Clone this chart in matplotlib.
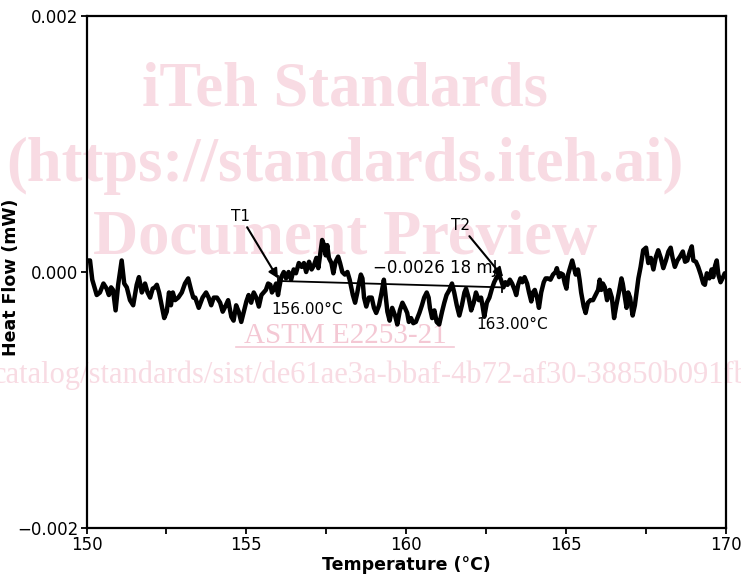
import matplotlib
matplotlib.use("Agg")
import matplotlib.pyplot as plt
from matplotlib.lines import Line2D

# ---------------- data ----------------
temperature = [
    150.04, 150.11, 150.18, 150.32, 150.42, 150.53, 150.63, 150.70, 150.77, 150.83,
    150.91, 150.99, 151.10, 151.18, 151.26, 151.36, 151.46, 151.57, 151.64, 151.73,
    151.78, 151.83, 151.91, 151.99, 152.07, 152.14, 152.20, 152.27, 152.35, 152.43,
    152.51, 152.58, 152.64, 152.70, 152.77, 152.87, 152.98, 153.08, 153.18, 153.27,
    153.34, 153.40, 153.51, 153.63, 153.74, 153.82, 153.90, 153.98, 154.08, 154.18,
    154.26, 154.34, 154.43, 154.53, 154.60, 154.68, 154.76, 154.84, 154.92, 155.00,
    155.07, 155.15, 155.23, 155.31, 155.39, 155.47, 155.54, 155.61, 155.68, 155.75,
    155.80, 155.87, 155.93, 155.99, 156.03, 156.09, 156.17, 156.24, 156.32, 156.40,
    156.48, 156.55, 156.64, 156.73, 156.80, 156.87, 156.96, 157.04, 157.11, 157.19,
    157.25, 157.32, 157.37, 157.43, 157.48, 157.53, 157.58, 157.66, 157.72, 157.79,
    157.87, 157.93, 158.00, 158.08, 158.16, 158.23, 158.29, 158.33, 158.40, 158.47,
    158.52, 158.58, 158.63, 158.68, 158.75, 158.83, 158.92, 158.99, 159.06, 159.15,
    159.23, 159.30, 159.36, 159.41, 159.48, 159.56, 159.65, 159.72, 159.80, 159.88,
    159.96, 160.03, 160.08, 160.15, 160.22, 160.30, 160.41, 160.49, 160.56, 160.64,
    160.70, 160.74, 160.81, 160.88, 160.95, 161.03, 161.12, 161.19, 161.26, 161.35,
    161.43, 161.50, 161.58, 161.66, 161.74, 161.82, 161.87, 161.95, 162.03, 162.11,
    162.18, 162.27, 162.34, 162.39, 162.44, 162.52, 162.60, 162.68, 162.75, 162.83,
    162.89, 162.96, 163.04, 163.10, 163.17, 163.24, 163.31, 163.39, 163.44, 163.50,
    163.57, 163.63, 163.70, 163.78, 163.84, 163.91, 163.96, 164.02, 164.09, 164.15,
    164.22, 164.30, 164.36, 164.43, 164.51, 164.59, 164.67, 164.71, 164.78, 164.83,
    164.90, 164.96, 165.01, 165.06, 165.13, 165.19, 165.25, 165.30, 165.37, 165.42,
    165.47, 165.55, 165.61, 165.68, 165.76, 165.84, 165.92, 166.00, 166.05, 166.10,
    166.15, 166.21, 166.28, 166.36, 166.43, 166.50, 166.57, 166.65, 166.73, 166.77,
    166.84, 166.89, 166.94, 167.00, 167.08, 167.15, 167.26, 167.33, 167.41, 167.50,
    167.57, 167.65, 167.73, 167.81, 167.88, 167.96, 168.04, 168.12, 168.20, 168.27,
    168.33, 168.40, 168.48, 168.56, 168.65, 168.72, 168.79, 168.87, 168.93, 168.98,
    169.06, 169.13, 169.21, 169.29, 169.34, 169.40, 169.48, 169.55, 169.60, 169.66,
    169.71, 169.76, 169.83, 169.91, 169.96,
]

heat_flow = [
    0.00009, 0.00009, -0.00006, -0.00018, -0.00016, -0.00009, -0.00013, -0.00018, -0.00012, -0.00014,
    -0.00030, -0.00010, 0.00009, -0.00009, -0.00012, -0.00022, -0.00026, -0.00010, -0.00004, -0.00016,
    -0.00013, -0.00009, -0.00016, -0.00020, -0.00013, -0.00012, -0.00010, -0.00016, -0.00026, -0.00036,
    -0.00031, -0.00016, -0.00026, -0.00016, -0.00022, -0.00020, -0.00016, -0.00009, -0.00005, -0.00014,
    -0.00020, -0.00020, -0.00028, -0.00020, -0.00016, -0.00020, -0.00026, -0.00020, -0.00020, -0.00024,
    -0.00031, -0.00027, -0.00022, -0.00035, -0.00038, -0.00026, -0.00031, -0.00039, -0.00031, -0.00023,
    -0.00018, -0.00024, -0.00016, -0.00020, -0.00027, -0.00018, -0.00016, -0.00014, -0.00009, -0.00010,
    -0.00016, -0.00013, -0.00009, -0.00018, -0.00012, -0.00004, 0.00000, -0.00005, 0.00000, -0.00006,
    0.00002, -0.00001, 0.00007, 0.00004, 0.00007, 0.00000, 0.00008, 0.00002, 0.00005, 0.00011,
    0.00003, 0.00016, 0.00025, 0.00021, 0.00013, 0.00021, 0.00011, 0.00007, -0.00001, 0.00008,
    0.00012, 0.00007, 0.00000, -0.00002, 0.00000, -0.00006, -0.00013, -0.00018, -0.00024, -0.00016,
    -0.00009, -0.00002, -0.00005, -0.00020, -0.00027, -0.00020, -0.00020, -0.00028, -0.00032, -0.00026,
    -0.00016, -0.00006, -0.00020, -0.00031, -0.00038, -0.00028, -0.00034, -0.00041, -0.00030, -0.00024,
    -0.00028, -0.00032, -0.00039, -0.00036, -0.00040, -0.00039, -0.00032, -0.00026, -0.00020, -0.00016,
    -0.00020, -0.00028, -0.00036, -0.00030, -0.00039, -0.00041, -0.00031, -0.00024, -0.00018, -0.00014,
    -0.00009, -0.00016, -0.00026, -0.00034, -0.00026, -0.00016, -0.00013, -0.00020, -0.00030, -0.00024,
    -0.00016, -0.00022, -0.00020, -0.00027, -0.00035, -0.00024, -0.00020, -0.00013, -0.00008, -0.00004,
    -0.00002, -0.00006, -0.00012, -0.00008, -0.00010, -0.00006, -0.00009, -0.00014, -0.00018, -0.00010,
    -0.00005, -0.00008, -0.00004, -0.00009, -0.00016, -0.00023, -0.00016, -0.00014, -0.00020, -0.00028,
    -0.00016, -0.00008, -0.00005, -0.00005, -0.00006, -0.00002, 0.00000, 0.00003, -0.00004, -0.00001,
    -0.00002, -0.00009, -0.00013, -0.00002, 0.00004, 0.00009, 0.00003, -0.00002, 0.00002, -0.00006,
    -0.00016, -0.00027, -0.00032, -0.00024, -0.00022, -0.00022, -0.00018, -0.00014, -0.00006, -0.00014,
    -0.00009, -0.00012, -0.00022, -0.00014, -0.00020, -0.00036, -0.00026, -0.00016, -0.00005, -0.00009,
    -0.00020, -0.00028, -0.00016, -0.00020, -0.00034, -0.00026, -0.00005, 0.00004, 0.00017, 0.00019,
    0.00007, 0.00011, 0.00002, 0.00012, 0.00017, 0.00011, 0.00003, 0.00009, 0.00016, 0.00019,
    0.00011, 0.00004, 0.00009, 0.00012, 0.00016, 0.00008, 0.00009, 0.00016, 0.00020, 0.00009,
    0.00008, 0.00004, -0.00002, -0.00009, -0.00010, -0.00001, -0.00005, 0.00002, -0.00004, 0.00005,
    0.00009, -0.00002, -0.00008, -0.00004, -0.00001,
]

# integration baseline (T1 -> T2)
baseline_temp = [156.0, 163.0]
baseline_flow = [-0.00007, -0.00012]

x_ticks = [150, 155, 160, 165, 170]
x_minor_ticks = [152.5, 157.5, 162.5, 167.5]
y_ticks = [-0.002, 0.0, 0.002]
y_tick_labels = ["\u22120.002", "0.000", "0.002"]

enthalpy_label = "\u22120.0026 18 mJ"
t1_label = "156.00\u00b0C"
t2_label = "163.00\u00b0C"

watermark_lines = ["iTeh Standards", "(https://standards.iteh.ai)", "Document Preview"]

# ---------------- figure ----------------
plt.rcParams['font.family'] = ['DejaVu Sans']
W, H = 741, 585
fig = plt.figure(figsize=(W / 100, H / 100), dpi=100)
ax = fig.add_axes([86.5 / W, 57 / H, (726 - 86.5) / W, (528 - 16) / H])
ax.set_zorder(2)
ax.patch.set_alpha(0)

# watermark (behind the axes)
pink = '#f8dbe3'
ys = [H - 106, H - 181, H - 254]
for txt, yb in zip(watermark_lines, ys):
    fig.text(345 / W, yb / H, txt, ha='center', va='baseline', fontsize=45,
             family='Liberation Serif', fontweight='bold', color=pink, zorder=0)
fig.text(345 / W, (H - 343) / H, "ASTM E2253-21", ha='center', va='baseline', fontsize=21,
         family='Liberation Serif', color='#f4c8d4', zorder=0)
fig.add_artist(Line2D([236 / W, 454 / W], [(H - 347) / H] * 2, color='#f4c8d4', lw=1.2, zorder=0))
fig.text(-7 / W, (H - 383) / H,
         "catalog/standards/sist/de61ae3a-bbaf-4b72-af30-38850b091fb0/astm-e2253-21",
         ha='left', va='baseline', fontsize=22, family='Liberation Serif',
         color=pink, zorder=0)

# data curve
ax.plot(temperature, heat_flow, color='black', lw=3.2, solid_joinstyle='round',
        solid_capstyle='round', zorder=3)
ax.plot(baseline_temp, baseline_flow, color='black', lw=1.3, zorder=3)
for bt, bf in zip(baseline_temp, baseline_flow):
    ax.plot([bt, bt], [bf - 0.00004, bf + 0.00004], color='black', lw=1.3, zorder=3)

# annotations
arrowprops = dict(arrowstyle='-|>', color='black', lw=1.5, mutation_scale=14, shrinkA=0, shrinkB=0)
ax.annotate("T1", xy=(155.99, -0.00005), xytext=(154.83, 0.00043),
            ha='center', va='center', fontsize=11, arrowprops=arrowprops, zorder=4)
ax.annotate("T2", xy=(163.03, -0.00004), xytext=(161.71, 0.00036),
            ha='center', va='center', fontsize=11, arrowprops=arrowprops, zorder=4)
ax.text(160.90, 0.00003, enthalpy_label, ha='center', va='center', fontsize=12, zorder=4)
ax.text(156.90, -0.00029, t1_label, ha='center', va='center', fontsize=11, zorder=4)
ax.text(163.31, -0.00041, t2_label, ha='center', va='center', fontsize=11, zorder=4)

# axes styling
ax.set_xlim(150, 170)
ax.set_ylim(-0.002, 0.002)
ax.set_xticks(x_ticks)
ax.set_xticks(x_minor_ticks, minor=True)
ax.set_yticks(y_ticks)
ax.set_yticklabels(y_tick_labels)
ax.tick_params(axis='both', which='both', direction='out', length=4.5, width=1.3,
               labelsize=12, pad=1.5)
for s in ax.spines.values():
    s.set_linewidth(1.6)
ax.set_xlabel("Temperature (\u00b0C)", fontsize=12.5, fontweight='bold', labelpad=1)
ax.set_ylabel("Heat Flow (mW)", fontsize=12.5, fontweight='bold')
ax.yaxis.set_label_coords((20 - 86.5) / (726 - 86.5), 0.49)

fig.savefig("out.png", dpi=100)
